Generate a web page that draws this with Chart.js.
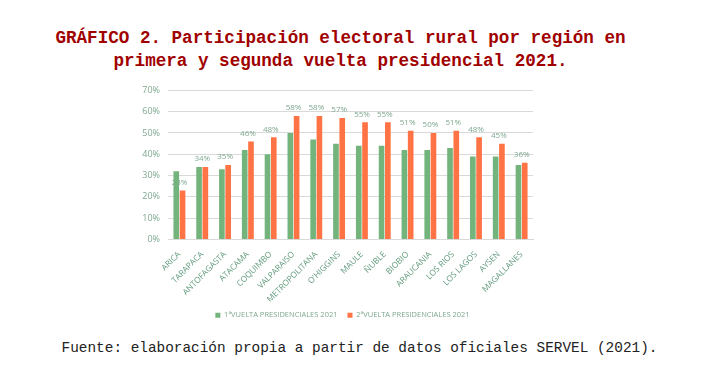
<!DOCTYPE html>
<html><head><meta charset="utf-8">
<script src="https://cdn.jsdelivr.net/npm/chart.js@4/dist/chart.umd.min.js"></script>
<style>
html,body{margin:0;padding:0;background:#fff;width:713px;height:376px;overflow:hidden;position:relative}
.t{position:absolute;left:0;width:713px;text-align:center;font-family:"Liberation Mono","Courier New",monospace;font-weight:bold;color:#a00000;font-size:17.6px;white-space:nowrap}
#foot{position:absolute;left:3px;width:713px;text-align:center;top:340px;font-family:"Liberation Mono","Courier New",monospace;font-size:14.4px;color:#222;white-space:nowrap}
#wrap{position:absolute;left:0;top:77px;width:713px;height:252px}
</style></head><body>
<div class="t" style="top:28px;left:-16px">GRÁFICO 2. Participación electoral rural por región en</div>
<div class="t" style="top:51px;left:-16px">primera y segunda vuelta presidencial 2021.</div>
<div id="wrap"><canvas id="c"></canvas></div>
<div id="foot">Fuente: elaboración propia a partir de datos oficiales SERVEL (2021).</div>
<script>
const categories = ["ARICA","TARAPACA","ANTOFAGASTA","ATACAMA","COQUIMBO","VALPARAISO","METROPOLITANA","O'HIGGINS","MAULE","ÑUBLE","BIOBIO","ARAUCANIA","LOS RIOS","LOS LAGOS","AYSEN","MAGALLANES"];
const primeraVuelta = [32,34,33,42,40,50,47,45,44,44,42,42,43,39,39,35];
const segundaVuelta = [23,34,35,46,48,58,58,57,55,55,51,50,51,48,45,36];
const seriesNames = ["1ªVUELTA PRESIDENCIALES 2021","2ªVUELTA PRESIDENCIALES 2021"];
const yTicks = [0,10,20,30,40,50,60,70];

const labelPlugin = {
  id:'lbl',
  afterDatasetsDraw(chart){
    const ctx = chart.ctx;
    const meta = chart.getDatasetMeta(1);
    ctx.save();
    ctx.font = '8px "Open Sans", sans-serif';
    ctx.fillStyle = '#7fa890';
    ctx.textAlign = 'center';
    ctx.textBaseline = 'bottom';
    meta.data.forEach((bar,i)=>{
      ctx.fillText(segundaVuelta[i]+'%', bar.x-3, bar.y-4);
    });
    ctx.restore();
  }
};
const legendShift = {
  id:'legShift',
  afterLayout(chart){
    const l = chart.legend; const dx = 26;
    l.left += dx; l.right += dx;
    if (l.legendHitBoxes) l.legendHitBoxes.forEach(h=>{h.left+=dx;});
  }
};

new Chart(document.getElementById('c'),{
  type:'bar',
  data:{
    labels:categories,
    datasets:[
      {label:seriesNames[0],data:primeraVuelta,backgroundColor:'#73b47d',barPercentage:0.9,categoryPercentage:0.55},
      {label:seriesNames[1],data:segundaVuelta,backgroundColor:'#ff7345',barPercentage:0.9,categoryPercentage:0.55}
    ]
  },
  options:{
    responsive:true,maintainAspectRatio:false,animation:false,
    layout:{padding:{left:100,right:180,top:3,bottom:0}},
    plugins:{
      legend:{position:'bottom',labels:{boxWidth:5,boxHeight:5,font:{size:7.5,family:'"Open Sans", sans-serif'},color:'#7fa890',padding:10}},
      tooltip:{enabled:false}
    },
    scales:{
      x:{
        grid:{display:false},
        border:{color:'#d9d9d9'},
        ticks:{maxRotation:45,minRotation:45,autoSkip:false,font:{size:8.3,family:'"Open Sans", sans-serif'},color:'#5f9a7a',padding:2},
        afterFit(s){s.height=62;}
      },
      y:{
        min:0,max:70,
        afterBuildTicks(s){s.ticks=yTicks.map(v=>({value:v}));},
        ticks:{callback:v=>v+'%',font:{size:9,family:'"Open Sans", sans-serif'},color:'#7fa890',padding:8},
        grid:{color:'#d9d9d9',drawTicks:false},
        border:{display:false},
        afterFit(s){s.width=68;}
      }
    }
  },
  plugins:[labelPlugin, legendShift]
});
</script>
</body></html>
